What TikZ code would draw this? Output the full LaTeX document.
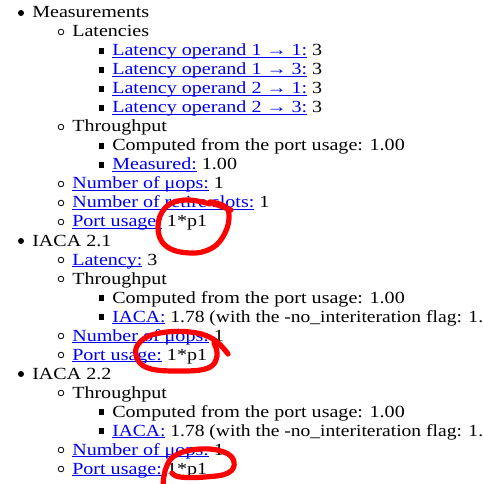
\documentclass[tikz,border=0pt]{standalone}
\usepackage{fontspec}
\setmainfont{Liberation Serif}[FakeStretch=1.18]
\newfontfamily\narrowfont{Liberation Serif}[FakeStretch=1.15]
\definecolor{linkblue}{HTML}{0000EE}
\definecolor{penred}{HTML}{FF0000}
\newcommand\lnk[1]{\textcolor{linkblue}{\setbox0\hbox{#1}\rlap{\rule[-1.6pt]{\wd0}{0.75pt}}\box0}}
\tikzset{
  row/.style={anchor=base west, inner sep=0pt, font=\fontsize{12.75pt}{15pt}\selectfont},
  narrowrow/.style={row, font=\narrowfont\fontsize{12.75pt}{15pt}\selectfont},
  disc/.style={circle, fill=black, inner sep=0pt, minimum size=4.5pt},
  ring/.style={circle, draw=black, line width=0.6pt, inner sep=0pt, minimum size=4.2pt},
  sq/.style={rectangle, fill=black, inner sep=0pt, minimum size=4.2pt},
  pen/.style={draw=penred, line width=3.9pt, line cap=round, line join=round}
}
\begin{document}
\begin{tikzpicture}[x=0.75pt,y=-0.75pt]
\useasboundingbox (0,0) rectangle (482,484);
\node[disc] (b0)  at (21,13) {};   \node[row] (t0)  at (32,18)  {Measurements};
\node[ring] (b1)  at (61,32) {};   \node[row] (t1)  at (72,37)  {Latencies};
\node[sq]   (b2)  at (101.5,51) {}; \node[row] (t2)  at (112,56)  {\lnk{Latency operand 1 → 1:} 3};
\node[sq]   (b3)  at (101.5,70) {}; \node[row] (t3)  at (112,75)  {\lnk{Latency operand 1 → 3:} 3};
\node[sq]   (b4)  at (101.5,89) {}; \node[row] (t4)  at (112,94)  {\lnk{Latency operand 2 → 1:} 3};
\node[sq]   (b5)  at (101.5,108) {}; \node[row] (t5) at (112,113) {\lnk{Latency operand 2 → 3:} 3};
\node[ring] (b6)  at (61,127) {};  \node[row] (t6)  at (72,132) {Throughput};
\node[sq]   (b7)  at (101.5,146) {}; \node[row] (t7) at (112,151) {Computed from the port usage: 1.00};
\node[sq]   (b8)  at (101.5,165) {}; \node[row] (t8) at (112,170) {\lnk{Measured:} 1.00};
\node[ring] (b9)  at (61,184) {};  \node[row] (t9)  at (72,189) {\lnk{Number of μops:} 1};
\node[ring] (b10) at (61,203) {};  \node[row] (t10) at (72,208) {\lnk{Number of retire slots:} 1};
\node[ring] (b11) at (61,222) {};  \node[row] (t11) at (72,227) {\lnk{Port usage:} 1*p1};
\node[disc] (b12) at (21,241) {};  \node[row] (t12) at (32,246) {IACA 2.1};
\node[ring] (b13) at (61,260) {};  \node[row] (t13) at (72,265) {\lnk{Latency:} 3};
\node[ring] (b14) at (61,279) {};  \node[row] (t14) at (72,284) {Throughput};
\node[sq]   (b15) at (101.5,298) {}; \node[row] (t15) at (112,303) {Computed from the port usage: 1.00};
\node[sq]   (b16) at (101.5,317) {}; \node[narrowrow] (t16) at (112,322) {\lnk{IACA:} 1.78 (with the -no\_interiteration flag: 1.};
\node[ring] (b17) at (61,336) {};  \node[row] (t17) at (72,341) {\lnk{Number of μops:} 1};
\node[ring] (b18) at (61,355) {};  \node[row] (t18) at (72,360) {\lnk{Port usage:} 1*p1};
\node[disc] (b19) at (21,374) {};  \node[row] (t19) at (32,379) {IACA 2.2};
\node[ring] (b20) at (61,393) {};  \node[row] (t20) at (72,398) {Throughput};
\node[sq]   (b21) at (101.5,412) {}; \node[row] (t21) at (112,417) {Computed from the port usage: 1.00};
\node[sq]   (b22) at (101.5,431) {}; \node[narrowrow] (t22) at (112,436) {\lnk{IACA:} 1.78 (with the -no\_interiteration flag: 1.};
\node[ring] (b23) at (61,450) {};  \node[row] (t23) at (72,455) {\lnk{Number of μops:} 1};
\node[ring] (b24) at (61,469) {};  \node[row] (t24) at (72,474) {\lnk{Port usage:} 1*p1};
\draw[pen] plot[smooth, tension=0.7] coordinates {(210,204) (186,200) (166,207) (158,227) (166,246) (190,253) (212,248) (225,233) (229,215) (224,206) (210,202) (231,210)};
\draw[pen] plot[smooth, tension=0.7] coordinates {(228,354) (213,339) (190,332) (160,333) (141,341) (136,355) (148,368) (180,371) (208,368) (217,356) (214,343)};
\draw[pen] plot[smooth, tension=0.7] coordinates {(163,486) (166,468) (176,455) (200,449) (224,452) (234,462) (228,473) (205,477) (180,477) (172,473)};
\end{tikzpicture}
\end{document}
